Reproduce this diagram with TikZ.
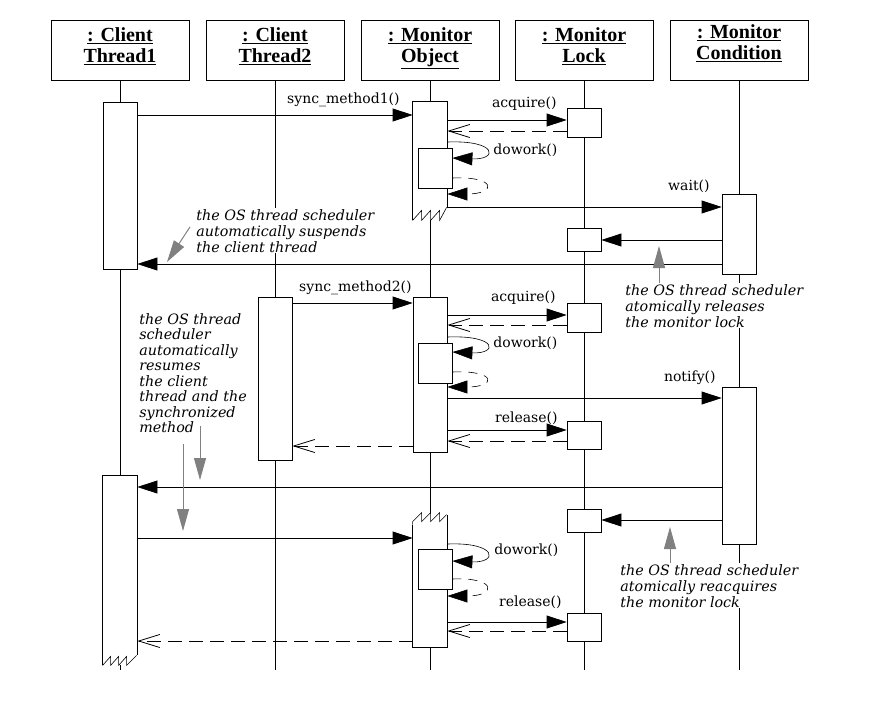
\documentclass[tikz,border=0pt]{standalone}
\usepackage{fontspec}
\setmainfont{Liberation Serif}
\newfontfamily\msgfont{DejaVu Serif}
\usetikzlibrary{%
  arrows.meta,%
  positioning% wg. " of "
}

\begin{document}
\begin{tikzpicture}[
    x=1pt,y=-1pt,line width=0.8pt,
    >={Triangle[length=20pt,width=13pt]},
    head/.style={rectangle,draw,fill=white,minimum width=138pt,minimum height=60pt,
        align=center,inner sep=2pt,text depth=9pt,font=\fontsize{20}{21}\selectfont\bfseries},
    act/.style={rectangle,draw,fill=white,minimum width=34pt,inner sep=0pt},
    bare/.style={rectangle,fill=white,minimum width=34pt,inner sep=0pt},
    msg/.style={->},
    ret/.style={-{Straight Barb[length=21pt,width=13pt]},dash pattern=on 14pt off 7pt},
    selfcall/.style={->,line width=0.6pt},
    selfret/.style={->,line width=0.6pt,dash pattern=on 9pt off 7pt},
    lbl/.style={font=\msgfont\fontsize{14}{16}\selectfont,inner sep=0pt},
    note/.style={fill=white,align=left,inner sep=1pt,
        font=\msgfont\itshape\fontsize{14.3}{16}\selectfont},
    hint/.style={gray,line width=1pt,-{Triangle[length=22pt,width=12pt]}},
    jag/.style={line width=0.6pt}
  ]
    \useasboundingbox (0,0) rectangle (879,715);

    % objects and life lines
    \node[head] (h1) at (120,50) {\underline{: Client}\\\underline{Thread1}};
    \node[head] (h2) at (275,50) {\underline{: Client}\\\underline{Thread2}};
    \node[head] (h3) at (430,50) {\underline{: Monitor}\\\underline{Object}};
    \node[head] (h4) at (584,50) {\underline{: Monitor}\\\underline{Lock}};
    \node[head,text depth=15pt] (h5) at (739,50) {\underline{: Monitor}\\\underline{Condition}};
    \foreach \n/\x in {1/120,2/275,3/430,4/584,5/739}{
      \coordinate (e\n) at (\x,670);
      \draw (h\n.south) -- (e\n);
    }

    % notes
    \node[note,anchor=north west] (nsusp) at (195,208)
        {the OS thread scheduler\\automatically suspends\\the client thread};
    \node[note,anchor=north west] (nrel) at (624,283)
        {the OS thread scheduler\\atomically releases\\the monitor lock};
    \node[note,anchor=north west,font=\msgfont\itshape\fontsize{14.3}{15.5}\selectfont]
        (nres) at (138,312)
        {the OS thread\\scheduler\\automatically\\resumes\\the client\\thread and the\\synchronized\\method};
    \node[note,anchor=north west] (nreacq) at (619,563)
        {the OS thread scheduler\\atomically reacquires\\the monitor lock};

    % activations
    \node[act,minimum height=167pt] (a1) at (120,185.5) {};
    \node[bare,minimum height=189pt] (a1b) at (120,570.5) {};
    \draw (a1b.south west) -- (a1b.north west) -- (a1b.north east)
        -- ([yshift=10pt]a1b.south east);
    \draw[jag] (a1b.south west) -- ++(8,-9) -- ++(0,9) -- ++(8,-9) -- ++(0,9)
        -- ++(8,-9) -- ++(0,9) -- ++(10,-10);
    \node[act,minimum height=163pt] (a2) at (275,378.5) {};
    \node[bare,minimum height=118pt] (a3) at (430,161) {};
    \draw (a3.south west) -- (a3.north west) -- (a3.north east)
        -- ([yshift=13pt]a3.south east);
    \draw[jag] (a3.south west) -- ++(9,-10) -- ++(0,10) -- ++(9,-10) -- ++(0,10)
        -- ++(9,-10) -- ++(0,10) -- ++(7,-13);
    \node[act,minimum height=155pt] (a3b) at (430,374.5) {};
    \node[bare,minimum height=134pt] (a3c) at (430,580) {};
    \draw ([yshift=-12pt]a3c.north west) -- (a3c.south west) -- (a3c.south east)
        -- ([yshift=-2pt]a3c.north east);
    \draw[jag] ([yshift=-12pt]a3c.north west) -- ++(0,-3) -- ++(9,-9) -- ++(0,9)
        -- ++(9,-9) -- ++(0,9) -- ++(9,-9) -- ++(0,9) -- ++(7,-7);
    \node[act,minimum height=40pt] (n1) at (435,168) {};
    \node[act,minimum height=40pt] (n2) at (435,363) {};
    \node[act,minimum height=40pt] (n3) at (435,569) {};
    \node[act,minimum height=29pt] (lk1) at (584,122.5) {};
    \node[act,minimum height=23pt] (lk2) at (584,239.5) {};
    \node[act,minimum height=29pt] (lk3) at (584,317.5) {};
    \node[act,minimum height=28pt] (lk4) at (584,435) {};
    \node[act,minimum height=23pt] (lk5) at (584,520.5) {};
    \node[act,minimum height=28pt] (lk6) at (584,627) {};
    \node[act,minimum height=80pt] (c1) at (739,234) {};
    \node[act,minimum height=157pt] (c2) at (739,465.5) {};

    % messages
    \draw[msg] (a1.east |- 0,115) -- (a3.west |- 0,115);
    \node[lbl,anchor=east] (lsm1) at (400,100) {sync\_method1()};
    \draw[msg] (a3.east |- 0,120) -- (lk1.west |- 0,120);
    \node[lbl,anchor=east] (lacq1) at (557,104) {acquire()};
    \draw[ret] (lk1.west |- 0,131) -- (a3.east |- 0,131);
    \draw[selfcall] (a3.east |- 0,142) .. controls (498,140) and (498,160) .. (n1.east |- 0,158);
    \node[lbl,anchor=west] (ldw1) at (493,150) {dowork()};
    \draw[selfret] (n1.east |- 0,178) .. controls (497,176) and (497,194) .. (a3.east |- 0,194);
    \draw[msg] (a3.east |- 0,207) -- (c1.west |- 0,207);
    \node[lbl,anchor=east] (lwait) at (710,186) {wait()};
    \draw[msg] (c1.west |- 0,240) -- (lk2.east |- 0,240);
    \draw[msg] (c1.west |- 0,264) -- (a1.east |- 0,264);

    \draw[msg] (a2.east |- 0,303) -- (a3b.west |- 0,303);
    \node[lbl,anchor=east] (lsm2) at (412,288) {sync\_method2()};
    \draw[msg] (a3b.east |- 0,315) -- (lk3.west |- 0,315);
    \node[lbl,anchor=east] (lacq2) at (556,298) {acquire()};
    \draw[ret] (lk3.west |- 0,325) -- (a3b.east |- 0,325);
    \draw[selfcall] (a3b.east |- 0,337) .. controls (498,335) and (498,354) .. (n2.east |- 0,352);
    \node[lbl,anchor=west] (ldw2) at (493,343) {dowork()};
    \draw[selfret] (n2.east |- 0,372) .. controls (497,370) and (497,387) .. (a3b.east |- 0,387);
    \draw[msg] (a3b.east |- 0,398) -- (c2.west |- 0,398);
    \node[lbl,anchor=east] (lnotify) at (716,378) {notify()};
    \draw[msg] (a3b.east |- 0,430) -- (lk4.west |- 0,430);
    \node[lbl,anchor=east] (lrel1) at (558,418) {release()};
    \draw[ret] (lk4.west |- 0,441) -- (a3b.east |- 0,441);
    \draw[ret] (a3b.west |- 0,446) -- (a2.east |- 0,446);

    \draw[msg] (c2.west |- 0,487) -- (a1b.east |- 0,487);
    \draw[msg] (c2.west |- 0,520) -- (lk5.east |- 0,520);
    \draw[msg] (a1b.east |- 0,538) -- (a3c.west |- 0,538);
    \draw[selfcall] (a3c.east |- 0,544) .. controls (498,542) and (498,563) .. (n3.east |- 0,561);
    \node[lbl,anchor=west] (ldw3) at (494,550) {dowork()};
    \draw[selfret] (n3.east |- 0,579) .. controls (497,577) and (497,596) .. (a3c.east |- 0,596);
    \draw[msg] (a3c.east |- 0,622) -- (lk6.west |- 0,622);
    \node[lbl,anchor=east] (lrel2) at (562,602) {release()};
    \draw[ret] (lk6.west |- 0,631) -- (a3c.east |- 0,631);
    \draw[ret] (a3c.west |- 0,641) -- (a1b.east |- 0,641);

    % scheduler hints
    \coordinate (psusp) at (167,262);
    \draw[hint] ([xshift=-5pt,yshift=4pt]nsusp.west) -- (psusp);
    \coordinate (prel) at (659,246);
    \draw[hint] (prel |- nrel.north) -- (prel);
    \coordinate (pres1) at (200,480);
    \coordinate (pres2) at (183,531);
    \draw[hint] ([yshift=8pt]pres1 |- nres.south) -- (pres1);
    \draw[hint] ([yshift=-10pt]pres2 |- nres.south) -- (pres2);
    \coordinate (preacq) at (670,527);
    \draw[hint] (preacq |- nreacq.north) -- (preacq);
\end{tikzpicture}
\end{document}
